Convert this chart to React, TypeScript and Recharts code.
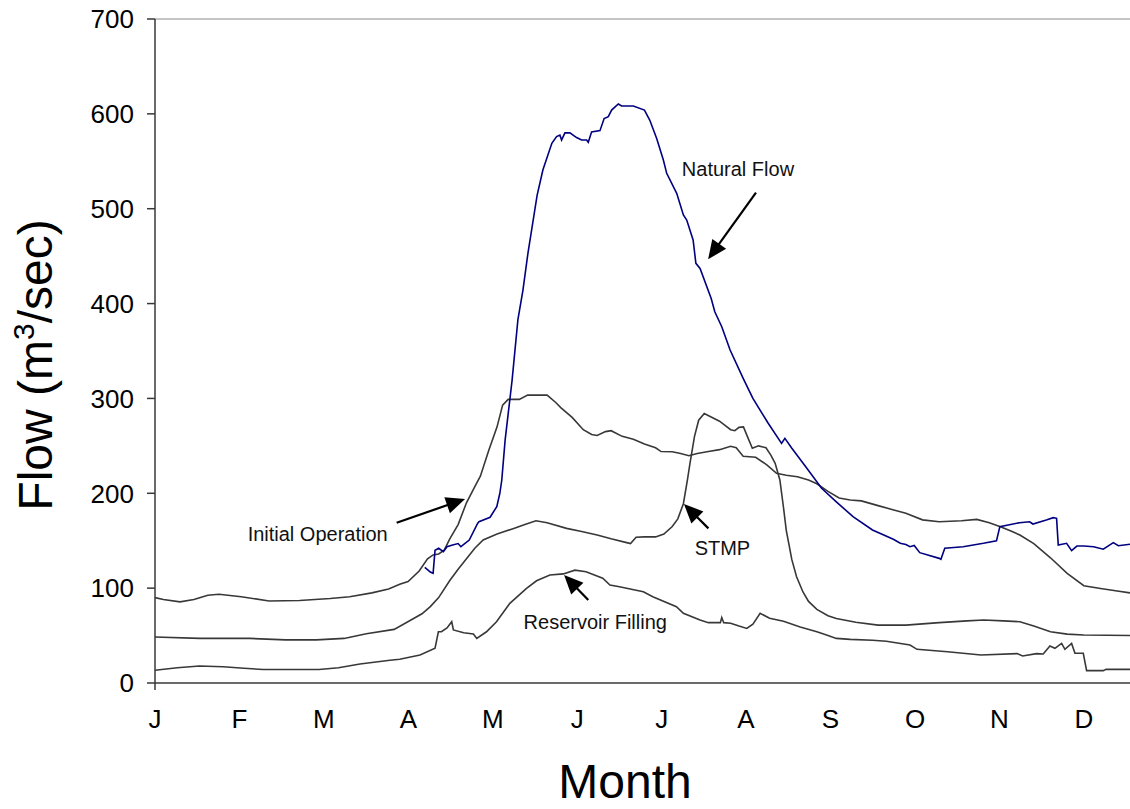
import React from 'react';
import { LineChart, Line, XAxis, YAxis, ReferenceLine, Label } from 'recharts';

// [day of year, flow m3/s]
const initialOperation: [number, number][] = [
  [0, 90], [3, 88], [9, 85.5], [14, 88], [19, 92.5], [23, 93.5], [31, 91], [41, 86.5], [52, 87], [63, 89],
  [70, 91], [78, 95], [84, 99], [88, 104], [91, 107], [95, 118], [98, 131], [100, 135], [102, 136], [104, 140],
  [106, 152], [109, 167], [112, 190], [115, 207], [117, 218], [120, 245], [123, 270], [125, 293], [127, 299], [131, 299],
  [134, 303.5], [141, 303.5], [144, 296], [146, 290], [150, 280], [154, 267], [157, 262], [159, 261], [162, 265], [164, 266],
  [168, 260], [172, 257], [176, 252], [180, 248], [182, 244], [186, 243.8], [189, 242], [192, 239.6], [195, 242], [199, 244],
  [203, 246], [207, 249.5], [209, 248], [211.5, 239], [216, 238], [220, 230], [223.5, 221], [227, 219], [231, 217.5], [235, 214],
  [238, 210], [242, 202], [246, 195], [250, 193], [254, 192], [260, 187], [265, 183], [270, 179], [276, 172], [282, 170],
  [290, 171], [295.5, 172.5], [300, 169], [304, 164.8], [308, 160], [311, 156], [316, 147], [322, 132], [328, 115.6], [334, 102.6],
  [340, 99.7], [346, 97], [350.6, 95],
];

const stmp: [number, number][] = [
  [0, 48.5], [16, 47], [34, 47], [47, 45.5], [58, 45.5], [68, 47], [76, 52], [86, 56.5], [93, 68], [96, 73],
  [99, 80.5], [102, 90], [106, 108], [109, 120], [112, 131], [115, 142], [118, 150.7], [123, 157], [129, 163], [133, 167],
  [137, 171], [141, 169], [148, 163], [153, 160], [159, 156], [164, 152], [169.6, 148], [171, 147], [173, 153.6], [176, 154],
  [180, 154], [183, 157], [186, 165], [188, 173], [190, 189], [191.5, 215], [192.4, 232], [194, 260], [195.5, 277], [197.5, 284],
  [203, 276], [207, 267], [208.5, 266], [210, 269.5], [211.6, 270], [213, 260], [214.8, 247.4], [217, 250], [219.7, 248], [221.5, 240],
  [223, 231.6], [224.7, 214], [226, 185], [227, 161], [229, 130], [230.7, 112], [233, 96], [235, 86], [238, 77.6], [242, 71],
  [245, 68], [252, 64], [260, 61], [270, 61], [282, 63.6], [292, 65.5], [298, 66.4], [305, 65.5], [311, 64.6], [316, 60],
  [322, 54], [328, 51.5], [334, 50.6], [350.6, 50],
];

const reservoirFilling: [number, number][] = [
  [0, 13.5], [8, 16], [16, 17.9], [24.5, 17.2], [32, 15.5], [39, 14.2], [59, 14.2], [66, 16], [73.7, 20], [84.5, 24],
  [88, 25], [95.3, 29.5], [100.7, 36.6], [101.9, 54], [103, 54], [105, 58], [106.7, 64.6], [107.3, 55.9], [111, 53], [114.5, 51.6],
  [115.7, 47], [119.2, 54], [122.8, 64.6], [127.6, 84], [133.6, 99.8], [137.2, 107.8], [142, 113.8], [146.8, 115], [151, 119], [155, 117.3],
  [158, 113.8], [161, 110.4], [163.6, 103.3], [167, 101.5], [175.6, 96.2], [179, 91], [187.5, 80.4], [190, 73.5], [196, 66.4], [199, 63.6],
  [203.3, 63.6], [203.8, 69], [204.5, 63.6], [207, 63], [210, 60], [212.8, 57.5], [215, 62], [217.6, 73.5], [221, 68.2], [226, 65],
  [232, 59], [238, 54], [242, 50], [245, 47], [250, 46], [258, 45], [263, 44], [271.5, 40], [274, 35.5], [285, 33],
  [297, 29.5], [310, 31], [312, 28.5], [317, 31], [319.4, 30.6], [321.8, 39], [323.6, 36.6], [326, 41.7], [327.2, 35.5], [329.6, 41.7],
  [330.8, 31.3], [333.8, 31.3], [335, 13], [341, 13], [342, 14.4], [350.6, 14.4],
];

const naturalFlow: [number, number][] = [
  [97, 122], [98.2, 119], [99, 117], [100, 115.6], [100.7, 140], [102, 142], [103.7, 138.4], [105, 143.7], [107, 145.5], [109, 147],
  [110, 143.7], [113, 150.7], [116, 168.3], [116.5, 170], [120.5, 174.7], [122.9, 186], [124, 200], [124.7, 214], [125.9, 256], [128.4, 319],
  [130.5, 383], [132.3, 414], [134.1, 453], [137.4, 514], [139.5, 541], [142.7, 569], [144.4, 576], [145.6, 577.7], [146.2, 572.4], [147.4, 580],
  [149.2, 580], [151.6, 575], [153.4, 572.4], [155.2, 572.4], [155.8, 570], [157, 581], [160, 582.3], [161.5, 595], [163, 597], [164.2, 604],
  [166.6, 610.4], [167.8, 608.3], [172, 608.3], [176, 604], [177.9, 593.5], [180.4, 574], [182.8, 551.3], [184, 537.3], [187.6, 516.2], [190, 493.4],
  [191.2, 488], [193.5, 467], [194.5, 442.4], [196, 437], [200, 405.4], [201.3, 391.4], [203.8, 375.6], [206.8, 351], [211.5, 321.2], [215, 300],
  [220.5, 273.8], [225.3, 252.6], [226.5, 257.9], [229, 247.4], [234, 228], [239.7, 205.3], [245, 191], [251, 175.3], [258, 161.3], [265.5, 151.5],
  [268, 147.3], [270, 146], [271.5, 143.7], [273, 145], [275, 137.4], [282, 131.4], [282.6, 130.4], [284, 142], [290.6, 143.7], [297.9, 147.3],
  [302.6, 150], [303.8, 164.8], [310.9, 169], [314.5, 170], [315.7, 167.6], [320.5, 171.8], [323, 174.3], [324.2, 173.6], [324.8, 145.5], [327.8, 147.3],
  [329.6, 139.5], [331.5, 144.4], [334, 144.4], [337.5, 143.7], [341, 141], [344.6, 148], [346.4, 144.7], [350.6, 146.2],
];

const monthLabels = ['J', 'F', 'M', 'A', 'M', 'J', 'J', 'A', 'S', 'O', 'N', 'D'];
const monthTicks = [0, 30.4, 60.7, 91.1, 121.5, 151.8, 182.2, 212.5, 242.9, 273.3, 303.6, 334];
const flowTicks = [0, 100, 200, 300, 400, 500, 600, 700];

// callouts: text, arrow tail [day, flow], arrow head [day, flow], text offset from tail (px)
const callouts = [
  { text: 'Natural Flow', tail: [216.1, 516.9], head: [198.9, 446.7], dx: -18, dy: -17 },
  { text: 'Initial Operation', tail: [86.9, 169], head: [111.5, 194], dx: -79, dy: 18 },
  { text: 'STMP', tail: [199, 163], head: [190.2, 188.7], dx: 14, dy: 27 },
  { text: 'Reservoir Filling', tail: [155.8, 87.5], head: [147.1, 113.8], dx: 7, dy: 29 },
];

const FONT = '"Liberation Sans", Arial, sans-serif';
const GRAY = '#383838';

const toPoints = (rows: [number, number][]) => rows.map(([day, flow]) => ({ day, flow }));

const MonthTick = (props: any) => {
  const { x, y, payload } = props;
  const i = monthTicks.indexOf(payload.value);
  return (
    <g>
      {i === 0 && <line x1={x} x2={x} y1={y - 27} y2={y - 20} stroke={GRAY} strokeWidth={1.5} />}
      <text x={x} y={y} dy="0.71em" textAnchor="middle" fontSize={26} fontFamily={FONT} fill="#000">
        {monthLabels[i]}
      </text>
    </g>
  );
};

const Arrow = ({ x1, y1, x2, y2, text, dx, dy }: any) => {
  const len = Math.hypot(x2 - x1, y2 - y1);
  const ux = (x2 - x1) / len;
  const uy = (y2 - y1) / len;
  const hl = 19;
  const hw = 8.5;
  const bx = x2 - ux * hl;
  const by = y2 - uy * hl;
  return (
    <g>
      <line x1={x1} y1={y1} x2={bx + ux * 2} y2={by + uy * 2} stroke="#000" strokeWidth={2.2} />
      <polygon
        points={`${x2},${y2} ${bx - uy * hw},${by + ux * hw} ${bx + uy * hw},${by - ux * hw}`}
        fill="#000"
      />
      <text x={x1 + dx} y={y1 + dy} textAnchor="middle" fontSize={20} fontFamily={FONT} fill="#111">
        {text}
      </text>
    </g>
  );
};

const MonthTitle = ({ viewBox }: any) => (
  <text x={viewBox.x + 470} y={viewBox.y + viewBox.height - 11} textAnchor="middle" fontSize={48} fontFamily={FONT} fill="#000">
    Month
  </text>
);

const FlowTitle = ({ viewBox }: any) => {
  const cx = viewBox.x + 52;
  const cy = viewBox.y + viewBox.height / 2 + 14;
  return (
    <text x={cx} y={cy} textAnchor="middle" fontSize={48} fontFamily={FONT} fill="#000" transform={`rotate(-90 ${cx} ${cy})`}>
      Flow (m
      <tspan fontSize={30} dy={-18}>3</tspan>
      <tspan dy={18}>/sec)</tspan>
    </text>
  );
};

export default function App() {
  return (
    <div style={{ position: 'absolute', left: 0, top: 0, background: '#fff' }}>
      <LineChart width={1130} height={809} margin={{ top: 19, right: 0, bottom: 0, left: 0 }}>
        <XAxis
          type="number"
          dataKey="day"
          domain={[0, 350.6]}
          allowDataOverflow
          ticks={monthTicks}
          interval={0}
          height={126}
          tickLine={false}
          tickSize={0}
          tickMargin={27}
          tick={<MonthTick />}
          axisLine={{ stroke: GRAY, strokeWidth: 1.5 }}
        >
          <Label content={<MonthTitle />} />
        </XAxis>
        <YAxis
          type="number"
          domain={[0, 700]}
          ticks={flowTicks}
          interval={0}
          width={155}
          tickSize={8}
          tickMargin={13}
          tickLine={{ stroke: GRAY, strokeWidth: 1.5 }}
          axisLine={{ stroke: GRAY, strokeWidth: 1.5 }}
          tick={{ fontSize: 26, fontFamily: FONT, fill: '#000' }}
        >
          <Label content={<FlowTitle />} />
        </YAxis>
        <ReferenceLine y={700} stroke="#8a8a8a" strokeWidth={1} />
        <Line data={toPoints(initialOperation)} dataKey="flow" type="linear" dot={false} stroke={GRAY} strokeWidth={1.6} isAnimationActive={false} />
        <Line data={toPoints(stmp)} dataKey="flow" type="linear" dot={false} stroke={GRAY} strokeWidth={1.6} isAnimationActive={false} />
        <Line data={toPoints(reservoirFilling)} dataKey="flow" type="linear" dot={false} stroke={GRAY} strokeWidth={1.6} isAnimationActive={false} />
        <Line data={toPoints(naturalFlow)} dataKey="flow" type="linear" dot={false} stroke="#000080" strokeWidth={1.6} isAnimationActive={false} />
        {callouts.map((c) => (
          <ReferenceLine
            key={c.text}
            segment={[{ x: c.tail[0], y: c.tail[1] }, { x: c.head[0], y: c.head[1] }]}
            shape={(p: any) => <Arrow x1={p.x1} y1={p.y1} x2={p.x2} y2={p.y2} text={c.text} dx={c.dx} dy={c.dy} />}
          />
        ))}
      </LineChart>
    </div>
  );
}
